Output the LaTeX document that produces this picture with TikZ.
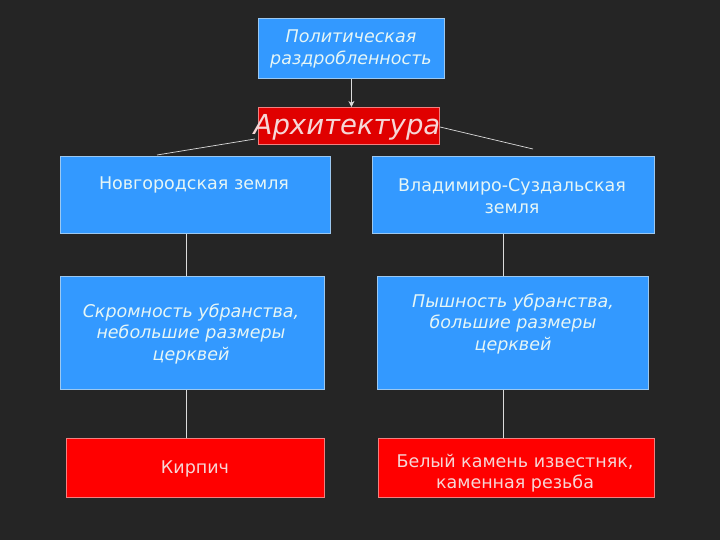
\documentclass[tikz,border=0pt]{standalone}
\usepackage{fontspec}
\setmainfont{DejaVu Sans}
\usetikzlibrary{arrows.meta}
\definecolor{bg}{HTML}{252525}
\definecolor{bbox}{HTML}{3399FF}
\definecolor{bborder}{HTML}{9CC8F0}
\definecolor{rbox}{HTML}{FF0000}
\definecolor{rborder}{HTML}{F08080}
\definecolor{btext}{HTML}{E6F6F6}
\definecolor{rtext}{HTML}{F6D6D6}
\definecolor{conn}{HTML}{DCDCDC}
\tikzset{
  bluebox/.style={draw=bborder, fill=bbox, line width=0.8pt, anchor=north west, inner sep=0pt},
  redbox/.style={draw=rborder, fill=rbox, line width=0.8pt, anchor=north west, inner sep=0pt},
  btxt/.style={text=btext, font=\fontsize{17.5}{21.5}\selectfont, align=center, inner sep=0pt},
  bitxt/.style={btxt, font=\fontsize{17.5}{21.5}\selectfont\itshape},
  rtxt/.style={text=rtext, font=\fontsize{17.5}{21.5}\selectfont, align=center, inner sep=0pt},
  conline/.style={draw=conn, line width=0.7pt},
}
\begin{document}
\begin{tikzpicture}[x=1pt,y=1pt]
\fill[bg] (0,0) rectangle (720,-540);
\useasboundingbox (0,0) rectangle (720,-540);
% boxes
\node[bluebox, minimum width=186pt, minimum height=60pt] (pol) at (258,-18) {};
\node[redbox, fill=red!88!black, minimum width=181pt, minimum height=37pt] (arch) at (258,-107) {};
\node[bluebox, minimum width=270pt, minimum height=77pt] (nov) at (60,-156) {};
\node[bluebox, minimum width=282pt, minimum height=77pt] (vla) at (372,-156) {};
\node[bluebox, minimum width=264pt, minimum height=113pt] (skr) at (60,-276) {};
\node[bluebox, minimum width=271pt, minimum height=113pt] (pys) at (377,-276) {};
\node[redbox, minimum width=258pt, minimum height=59pt] (kir) at (66,-438) {};
\node[redbox, minimum width=276pt, minimum height=59pt] (bel) at (378,-438) {};
% texts
\node[bitxt] (polt) at (351,-49) {Политическая\\раздробленность};
\node[text=rtext, font=\fontsize{27.5}{30}\selectfont\itshape, inner sep=0pt] (archt) at (347,-127) {Архитектура};
\node[btxt] (novt) at (194,-185) {Новгородская земля};
\node[btxt] (vlat) at (512,-196) {Владимиро-Суздальская\\земля};
\node[bitxt] (skrt) at (191,-334) {Скромность убранства,\\небольшие размеры\\церквей};
\node[bitxt] (pyst) at (513,-324) {Пышность убранства,\\большие размеры\\церквей};
\node[rtxt] (kirt) at (195,-469) {Кирпич};
\node[rtxt] (belt) at (515,-473) {Белый камень известняк,\\каменная резьба};
% connectors
\draw[conline, -{Stealth[length=6pt,width=6pt]}] (pol.south) -- (pol.south |- arch.north);
\coordinate (lstart) at (255,-139);
\coordinate (lend) at (157,-155);
\coordinate (rstart) at (440,-127);
\coordinate (rend) at (533,-149);
\draw[conline] (lstart) -- (lend);
\draw[conline] (rstart) -- (rend);
\draw[conline] (nov.south -| 186,0) -- (skr.north -| 186,0);
\draw[conline] (vla.south -| 503,0) -- (pys.north -| 503,0);
\draw[conline] (skr.south -| 186,0) -- (kir.north -| 186,0);
\draw[conline] (pys.south -| 503,0) -- (bel.north -| 503,0);
\end{tikzpicture}
\end{document}
